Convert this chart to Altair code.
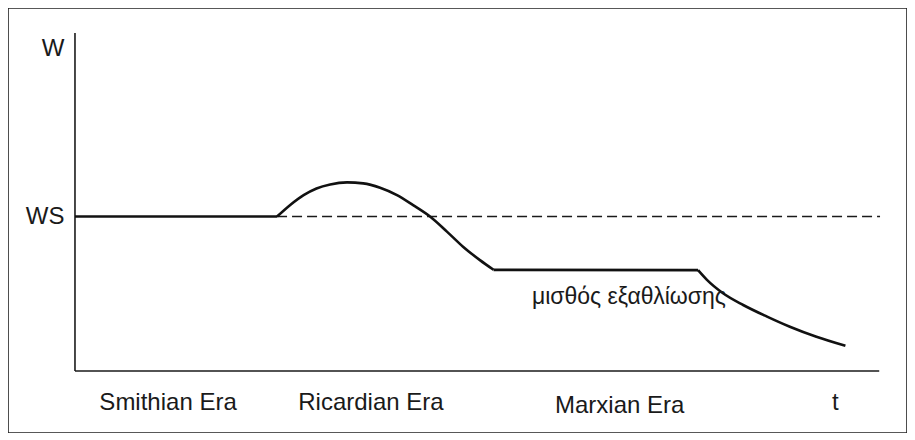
import altair as alt
import pandas as pd

# ---- data (t = time, w = wage, arbitrary units 0..100) ----
# each segment of the wage path is listed separately (joined end to end)
seg_flat1_t = [0.0, 25.1]
seg_flat1_w = [45.8, 45.8]
seg_hump_t = [25.1, 26.7, 28.4, 30.0, 31.7, 33.8, 35.8, 37.9, 40.0, 42.0, 44.1,
              46.2, 48.2, 50.3, 52.0]
seg_hump_w = [45.8, 49.2, 52.2, 54.2, 55.4, 56.0, 55.7, 54.4, 52.2, 49.2, 45.8,
              41.3, 36.8, 32.8, 29.9]
seg_flat2_t = [52.0, 77.4]
seg_flat2_w = [29.9, 29.8]
seg_fall_t = [77.4, 78.5, 80.5, 83.0, 85.9, 88.8, 92.1, 95.7]
seg_fall_w = [29.8, 26.9, 22.9, 19.4, 16.0, 12.9, 9.9, 7.2]

ws_level = 45.8
ws_from_t = 25.1
ws_to_t = 100.0

y_tick_values = [45.8, 96.0]
y_tick_labels = ["WS", "W"]

x_tick_values = [11.5, 36.7, 67.6, 94.4]
x_tick_labels = ["Smithian Era", "Ricardian Era", "Marxian Era", "t"]

axis_seg_t = [0.0, 0.0]
axis_seg_t2 = [0.0, 99.9]
axis_seg_w = [-0.3, -0.3]
axis_seg_w2 = [100.6, -0.3]

note_text = ["μισθός εξαθλίωσης"]
note_t = [68.8]
note_w = [19.6]

FONT = "Liberation Sans"

def label_expr(values, labels):
    expr = "''"
    for v, l in reversed(list(zip(values, labels))):
        expr = f"datum.value == {v} ? '{l}' : ({expr})"
    return expr

x_scale = alt.Scale(domain=[-8.32, 103.35], nice=False, zero=False)
y_scale = alt.Scale(domain=[-18.81, 108.06], nice=False, zero=False)

segments = [
    ("a", seg_flat1_t, seg_flat1_w),
    ("b", seg_hump_t, seg_hump_w),
    ("c", seg_flat2_t, seg_flat2_w),
    ("d", seg_fall_t, seg_fall_w),
]
rows = []
for sid, ts, ws in segments:
    for t, w in zip(ts, ws):
        rows.append({"seg": sid, "t": t, "w": w})
wage_df = pd.DataFrame(rows)
ws_df = pd.DataFrame({"t": [ws_from_t, ws_to_t], "w": [ws_level, ws_level]})
axes_df = pd.DataFrame({"t": axis_seg_t, "t2": axis_seg_t2, "w": axis_seg_w, "w2": axis_seg_w2})
note_df = pd.DataFrame({"label": note_text, "t": note_t, "w": note_w})

x_axis = alt.Axis(
    values=x_tick_values, labelExpr=label_expr(x_tick_values, x_tick_labels),
    orient="bottom", offset=-62, domain=False, ticks=False, tickSize=0, grid=False,
    labelPadding={"condition": {"test": f"datum.value == {x_tick_values[2]}", "value": 22}, "value": 19},
    labelFont=FONT, labelFontSize=24, labelColor="#1a1a1a",
    labelFlush=False, labelOverlap=False, title=None,
)
y_axis = alt.Axis(
    values=y_tick_values, labelExpr=label_expr(y_tick_values, y_tick_labels),
    orient="left", offset=-67, domain=False, ticks=False, tickSize=0, grid=False,
    labelPadding=11, labelFont=FONT, labelFontSize=24, labelColor="#1a1a1a",
    labelFlush=False, labelOverlap=False, title=None,
)

axes_layer = alt.Chart(axes_df).mark_rule(color="#1a1a1a", strokeWidth=1.6).encode(
    x=alt.X("t:Q", scale=x_scale, axis=x_axis),
    x2="t2:Q",
    y=alt.Y("w:Q", scale=y_scale, axis=y_axis),
    y2="w2:Q",
)

ws_layer = alt.Chart(ws_df).mark_line(color="#1a1a1a", strokeWidth=1.5, strokeDash=[10, 5]).encode(
    x=alt.X("t:Q", scale=x_scale),
    y=alt.Y("w:Q", scale=y_scale),
)

wage_layer = alt.Chart(wage_df).mark_line(color="#111111", strokeWidth=2.6, interpolate="monotone").encode(
    x=alt.X("t:Q", scale=x_scale),
    y=alt.Y("w:Q", scale=y_scale),
    detail="seg:N",
)

note_layer = alt.Chart(note_df).mark_text(
    font=FONT, fontSize=23, color="#1a1a1a", align="center", baseline="alphabetic"
).encode(
    x=alt.X("t:Q", scale=x_scale),
    y=alt.Y("w:Q", scale=y_scale),
    text="label:N",
)

chart = alt.layer(axes_layer, ws_layer, wage_layer, note_layer).properties(
    width=899, height=425, padding=0, autosize=alt.AutoSizeParams(type="none"),
    background="white",
).configure_view(stroke="#222222", strokeWidth=1.6)

chart.save("out.html", embed_options={"renderer": "svg", "actions": False})
